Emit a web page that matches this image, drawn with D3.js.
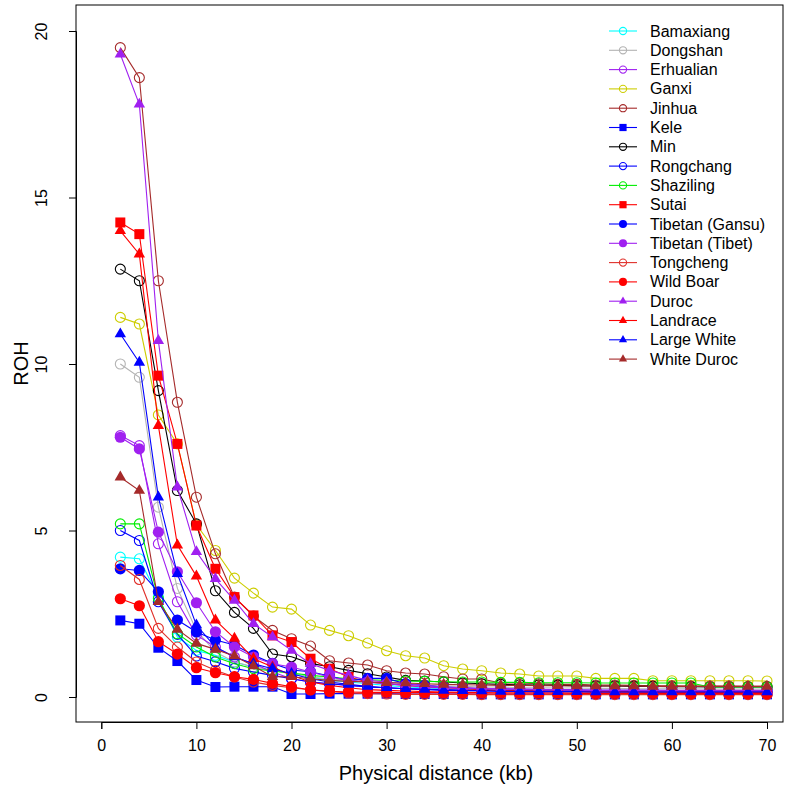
<!DOCTYPE html>
<html><head><meta charset="utf-8">
<script src="https://cdn.jsdelivr.net/npm/d3@7/dist/d3.min.js"></script>
<style>body{margin:0;background:#fff}svg{display:block}text{font-family:"Liberation Sans",Arial,Helvetica,sans-serif}</style>
</head><body><svg id="c" width="799" height="799"></svg>
<script>
const distances = [2,4,6,8,10,12,14,16,18,20,22,24,26,28,30,32,34,36,38,40,42,44,46,48,50,52,54,56,58,60,62,64,66,68,70];
const xTicks = [0,10,20,30,40,50,60,70];
const yTicks = [0,5,10,15,20];

const breeds = ["Bamaxiang","Dongshan","Erhualian","Ganxi","Jinhua","Kele","Min","Rongchang","Shaziling","Sutai","Tibetan (Gansu)","Tibetan (Tibet)","Tongcheng","Wild Boar","Duroc","Landrace","Large White","White Duroc"];
const colors = ["#00FFFF","#B3B3B3","#A020F0","#CDCD00","#A52A2A","#0000FF","#000000","#0000FF","#00EE00","#FF0000","#0000FF","#A020F0","#E0302A","#FF0000","#A020F0","#FF0000","#0000FF","#A52A2A"];
const shapes = ["circleOpen","circleOpen","circleOpen","circleOpen","circleOpen","square","circleOpen","circleOpen","circleOpen","square","circle","circle","circleOpen","circle","triangle","triangle","triangle","triangle"];

const bamaxiang = [4.2,4.15,3.0,1.8,1.4,1.25,1.05,0.9,0.8,0.7,0.6,0.5,0.45,0.4,0.35,0.3,0.28,0.25,0.22,0.2,0.2,0.18,0.18,0.17,0.16,0.15,0.15,0.15,0.14,0.14,0.14,0.13,0.13,0.13,0.13];
const dongshan = [10.0,9.6,5.7,3.26,2.0,1.35,1.05,0.9,0.8,0.7,0.6,0.55,0.5,0.45,0.4,0.38,0.35,0.33,0.32,0.3,0.3,0.28,0.28,0.27,0.27,0.26,0.26,0.25,0.25,0.25,0.25,0.24,0.24,0.24,0.24];
const erhualian = [7.85,7.55,4.6,2.86,1.86,1.5,1.2,1.0,0.75,0.55,0.45,0.4,0.35,0.3,0.28,0.25,0.23,0.22,0.2,0.2,0.19,0.18,0.18,0.17,0.17,0.16,0.16,0.16,0.15,0.15,0.15,0.15,0.15,0.15,0.15];
const ganxi = [11.4,11.2,8.47,7.6,5.17,4.4,3.57,3.12,2.7,2.64,2.16,2.0,1.84,1.62,1.39,1.24,1.17,0.94,0.84,0.79,0.72,0.69,0.63,0.63,0.63,0.56,0.56,0.56,0.49,0.49,0.49,0.49,0.49,0.49,0.48];
const jinhua = [19.5,18.6,12.5,8.85,6.0,4.3,3.0,2.43,2.0,1.75,1.53,1.09,1.02,0.96,0.79,0.72,0.69,0.61,0.54,0.54,0.42,0.42,0.4,0.38,0.38,0.36,0.36,0.35,0.34,0.34,0.33,0.33,0.33,0.32,0.32];
const kele = [2.3,2.2,1.48,1.08,0.51,0.3,0.31,0.31,0.31,0.09,0.09,0.1,0.1,0.1,0.1,0.09,0.09,0.09,0.09,0.08,0.08,0.08,0.08,0.08,0.08,0.08,0.08,0.08,0.08,0.08,0.08,0.08,0.08,0.08,0.08];
const min = [12.85,12.5,9.2,6.2,5.2,3.19,2.54,2.06,1.29,1.21,1.01,0.91,0.8,0.7,0.6,0.5,0.48,0.45,0.42,0.4,0.38,0.37,0.36,0.35,0.34,0.33,0.33,0.32,0.32,0.31,0.31,0.3,0.3,0.3,0.3];
const rongchang = [5.0,4.7,2.86,1.88,1.23,1.06,0.86,0.75,0.65,0.55,0.45,0.4,0.35,0.3,0.28,0.25,0.23,0.22,0.2,0.2,0.19,0.18,0.18,0.17,0.17,0.16,0.16,0.16,0.15,0.15,0.15,0.15,0.15,0.15,0.15];
const shaziling = [5.2,5.2,2.95,1.9,1.5,1.2,1.0,0.85,0.78,0.72,0.65,0.6,0.55,0.52,0.5,0.48,0.47,0.46,0.45,0.45,0.44,0.44,0.43,0.43,0.43,0.42,0.42,0.42,0.42,0.42,0.42,0.3,0.3,0.3,0.3];
const sutai = [14.25,13.9,9.65,7.6,5.15,3.85,3.0,2.45,1.85,1.65,1.15,0.85,0.6,0.45,0.4,0.35,0.3,0.28,0.25,0.22,0.2,0.2,0.18,0.18,0.17,0.16,0.16,0.15,0.15,0.15,0.14,0.14,0.14,0.14,0.14];
const tibetanGansu = [3.85,3.8,3.16,2.31,1.95,1.71,1.56,1.26,1.01,0.81,0.76,0.63,0.49,0.56,0.56,0.4,0.35,0.3,0.28,0.25,0.25,0.23,0.22,0.22,0.21,0.2,0.2,0.2,0.2,0.19,0.19,0.19,0.19,0.19,0.19];
const tibetanTibet = [7.8,7.45,4.95,3.76,2.83,1.96,1.5,1.2,1.0,0.9,0.75,0.6,0.5,0.45,0.4,0.35,0.3,0.28,0.26,0.25,0.24,0.23,0.22,0.22,0.21,0.2,0.2,0.2,0.2,0.2,0.2,0.2,0.2,0.2,0.2];
const tongcheng = [3.95,3.53,2.06,1.5,1.05,0.8,0.6,0.45,0.35,0.28,0.22,0.17,0.12,0.1,0.09,0.08,0.08,0.08,0.08,0.07,0.07,0.07,0.07,0.07,0.07,0.07,0.07,0.07,0.07,0.07,0.07,0.07,0.07,0.07,0.07];
const wildBoar = [2.95,2.74,1.66,1.29,0.88,0.73,0.61,0.53,0.41,0.31,0.21,0.17,0.15,0.14,0.14,0.13,0.13,0.13,0.12,0.12,0.12,0.12,0.12,0.12,0.11,0.11,0.11,0.11,0.11,0.1,0.1,0.1,0.1,0.1,0.1];
const duroc = [19.3,17.8,10.7,6.3,4.36,3.55,2.9,2.2,1.8,1.4,1.0,0.8,0.65,0.5,0.45,0.4,0.35,0.3,0.28,0.26,0.25,0.24,0.23,0.22,0.21,0.2,0.2,0.2,0.19,0.19,0.19,0.19,0.19,0.19,0.19];
const landrace = [14.0,13.3,8.15,4.56,3.63,2.31,1.76,1.15,0.9,0.65,0.45,0.35,0.28,0.22,0.2,0.18,0.16,0.15,0.14,0.13,0.12,0.12,0.12,0.12,0.12,0.12,0.12,0.12,0.12,0.12,0.12,0.12,0.12,0.12,0.12];
const largeWhite = [10.9,10.05,6.0,3.7,2.16,1.5,1.2,1.0,0.85,0.7,0.55,0.45,0.38,0.32,0.28,0.25,0.23,0.2,0.19,0.18,0.17,0.17,0.16,0.16,0.16,0.15,0.15,0.15,0.15,0.15,0.15,0.15,0.15,0.15,0.15];
const whiteDuroc = [6.6,6.2,2.86,2.03,1.61,1.43,1.23,0.93,0.61,0.61,0.55,0.5,0.47,0.45,0.43,0.42,0.4,0.38,0.37,0.36,0.35,0.35,0.34,0.34,0.33,0.33,0.33,0.33,0.32,0.32,0.32,0.32,0.32,0.32,0.32];

const seriesValues = [bamaxiang,dongshan,erhualian,ganxi,jinhua,kele,min,rongchang,shaziling,sutai,tibetanGansu,tibetanTibet,tongcheng,wildBoar,duroc,landrace,largeWhite,whiteDuroc];

const svg = d3.select("#c");
const box = {l:76, r:783, t:5, b:722};
const x = d3.scaleLinear().domain([0,70]).range([101.3,767]);
const y = d3.scaleLinear().domain([0,20]).range([697,31]);

function drawMarker(g, shape, color, cx, cy, s) {
  if (shape === "circleOpen") {
    g.append("circle").attr("cx",cx).attr("cy",cy).attr("r",5*s).attr("fill","none").attr("stroke",color).attr("stroke-width",1.1);
  } else if (shape === "circle") {
    g.append("circle").attr("cx",cx).attr("cy",cy).attr("r",5.6*s).attr("fill",color);
  } else if (shape === "square") {
    const h = 5*s;
    g.append("rect").attr("x",cx-h).attr("y",cy-h).attr("width",2*h).attr("height",2*h).attr("fill",color);
  } else if (shape === "triangle") {
    const r = 6.6*s;
    g.append("path").attr("d",`M${cx},${cy-r} L${cx+r*0.866},${cy+r*0.5} L${cx-r*0.866},${cy+r*0.5} Z`).attr("fill",color);
  }
}

const plot = svg.append("g");
const line = d3.line().x((d,i)=>x(distances[i])).y(d=>y(d));
seriesValues.forEach((vals,k)=>{
  const g = plot.append("g");
  g.append("path").datum(vals).attr("d",line).attr("fill","none").attr("stroke",colors[k]).attr("stroke-width",1.1);
  vals.forEach((v,i)=>drawMarker(g, shapes[k], colors[k], x(distances[i]), y(v), 1));
});

// box
svg.append("rect").attr("x",box.l).attr("y",box.t).attr("width",box.r-box.l).attr("height",box.b-box.t).attr("fill","none").attr("stroke","#000").attr("stroke-width",1);

// x axis
const xa = svg.append("g").attr("transform",`translate(0,${box.b})`)
  .call(d3.axisBottom(x).tickValues(xTicks).tickSize(7).tickPadding(11).tickFormat(d3.format("d")));
xa.select(".domain").attr("stroke","#000");
xa.selectAll("text").attr("font-size",16).attr("fill","#000").attr("font-family","'Liberation Sans',Arial,sans-serif");

// y axis
const ya = svg.append("g").attr("transform",`translate(${box.l},0)`)
  .call(d3.axisLeft(y).tickValues(yTicks).tickSize(7).tickFormat(d3.format("d")));
ya.select(".domain").attr("stroke","#000");
ya.selectAll("text").attr("font-size",16).attr("fill","#000").attr("font-family","'Liberation Sans',Arial,sans-serif")
  .attr("x",null).attr("dy",null).attr("text-anchor","middle").attr("dominant-baseline","central")
  .attr("transform","translate(-35,0) rotate(-90)");

svg.append("text").attr("x",436).attr("y",780).attr("text-anchor","middle").attr("font-size",20).text("Physical distance (kb)");
svg.append("text").attr("transform",`translate(28,${(box.t+box.b)/2}) rotate(-90)`).attr("text-anchor","middle").attr("font-size",20).text("ROH");

// legend
const leg = svg.append("g");
breeds.forEach((b,k)=>{
  const ly = 31 + k*19.3;
  leg.append("line").attr("x1",609).attr("x2",637).attr("y1",ly).attr("y2",ly).attr("stroke",colors[k]).attr("stroke-width",1.1);
  drawMarker(leg, shapes[k], colors[k], 623, ly, 0.72);
  leg.append("text").attr("x",650).attr("y",ly).attr("dominant-baseline","central").attr("font-size",16).text(b);
});
</script></body></html>
